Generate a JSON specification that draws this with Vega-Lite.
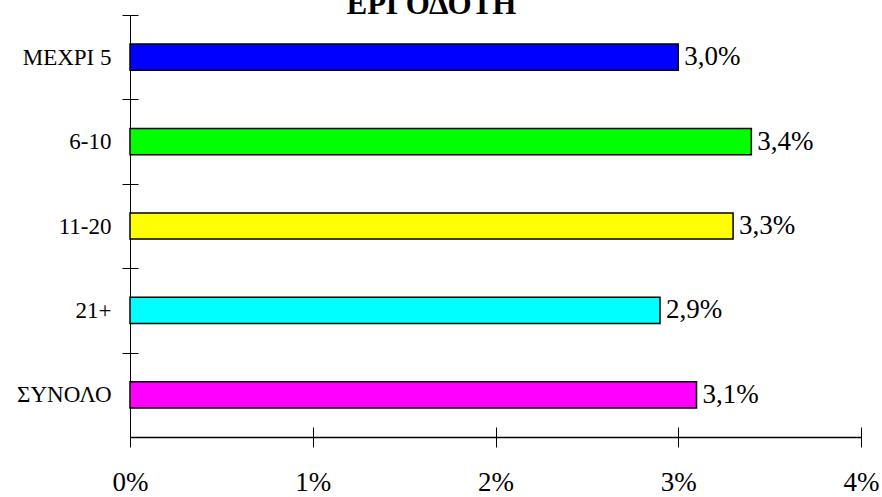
{
  "$schema": "https://vega.github.io/schema/vega-lite/v6.json",
  "autosize": "none",
  "width": 731,
  "height": 422,
  "padding": {"left": 130, "top": 15, "right": 21, "bottom": 60},
  "background": "white",
  "config": {
    "locale": {"number": {"decimal": ",", "thousands": ".", "grouping": [3], "currency": ["", " €"]}},
    "view": {"stroke": null},
    "font": "'Liberation Serif', 'Times New Roman', Times, serif"
  },
  "title": {
    "text": "ΕΡΓΟΔΟΤΗ",
    "font": "'Liberation Serif', 'Times New Roman', Times, serif",
    "fontSize": 31,
    "fontWeight": "bold",
    "color": "black",
    "anchor": "middle",
    "dx": -64,
    "baseline": "alphabetic",
    "offset": -30
  },
  "data": {
    "values": [
      {"cat": "ΜΕΧΡΙ 5", "value": 0.030, "color": "#0000FF"},
      {"cat": "6-10", "value": 0.034, "color": "#00FF00"},
      {"cat": "11-20", "value": 0.033, "color": "#FFFF00"},
      {"cat": "21+", "value": 0.029, "color": "#00FFFF"},
      {"cat": "ΣΥΝΟΛΟ", "value": 0.031, "color": "#FF00FF"}
    ]
  },
  "encoding": {
    "y": {
      "field": "cat", "type": "nominal", "sort": null,
      "scale": {"paddingInner": 0.69, "paddingOuter": 0.345}
    },
    "x": {
      "field": "value", "type": "quantitative",
      "scale": {"domain": [0, 0.04], "nice": false, "zero": true}
    }
  },
  "layer": [
    {
      "mark": {"type": "bar", "stroke": "black", "strokeWidth": 1.5},
      "encoding": {
        "color": {"field": "color", "type": "nominal", "scale": null},
        "y": {
          "field": "cat", "type": "nominal", "sort": null,
          "axis": {
            "title": null, "orient": "left", "tickOffset": -42.2, "labelOffset": 42.2, "tickSize": 8,
            "tickColor": "black", "domainColor": "black", "tickWidth": 1, "domainWidth": 1,
            "labelFont": "'Liberation Serif', 'Times New Roman', Times, serif", "labelFontSize": 23, "labelColor": "black",
            "labelPadding": 11
          }
        },
        "x": {
          "field": "value", "type": "quantitative",
          "axis": {
            "title": null, "orient": "bottom", "format": ".0%", "values": [0, 0.01, 0.02, 0.03, 0.04],
            "tickSize": 10, "tickColor": "black", "domainColor": "black", "tickWidth": 1, "domainWidth": 1.5,
            "labelFont": "'Liberation Serif', 'Times New Roman', Times, serif", "labelFontSize": 27, "labelColor": "black",
            "labelPadding": 22, "labelBaseline": "top", "grid": false, "labelFlush": false
          }
        }
      }
    },
    {
      "mark": {"type": "text", "align": "left", "baseline": "middle", "dx": 6, "font": "'Liberation Serif', 'Times New Roman', Times, serif", "fontSize": 27, "color": "black"},
      "encoding": {
        "text": {"field": "value", "type": "quantitative", "format": ".1%"},
        "y": {
          "field": "cat", "type": "nominal", "sort": null,
          "axis": {
            "title": null, "orient": "left", "tickOffset": -42.2, "tickSize": -8,
            "tickColor": "black", "domain": false, "labels": false, "tickWidth": 1
          }
        },
        "x": {
          "field": "value", "type": "quantitative",
          "axis": {
            "title": null, "orient": "bottom", "values": [0, 0.01, 0.02, 0.03, 0.04],
            "tickSize": -10, "tickColor": "black", "domain": false, "labels": false, "grid": false, "tickWidth": 1
          }
        }
      }
    }
  ],
  "resolve": {"axis": {"x": "independent", "y": "independent"}}
}
